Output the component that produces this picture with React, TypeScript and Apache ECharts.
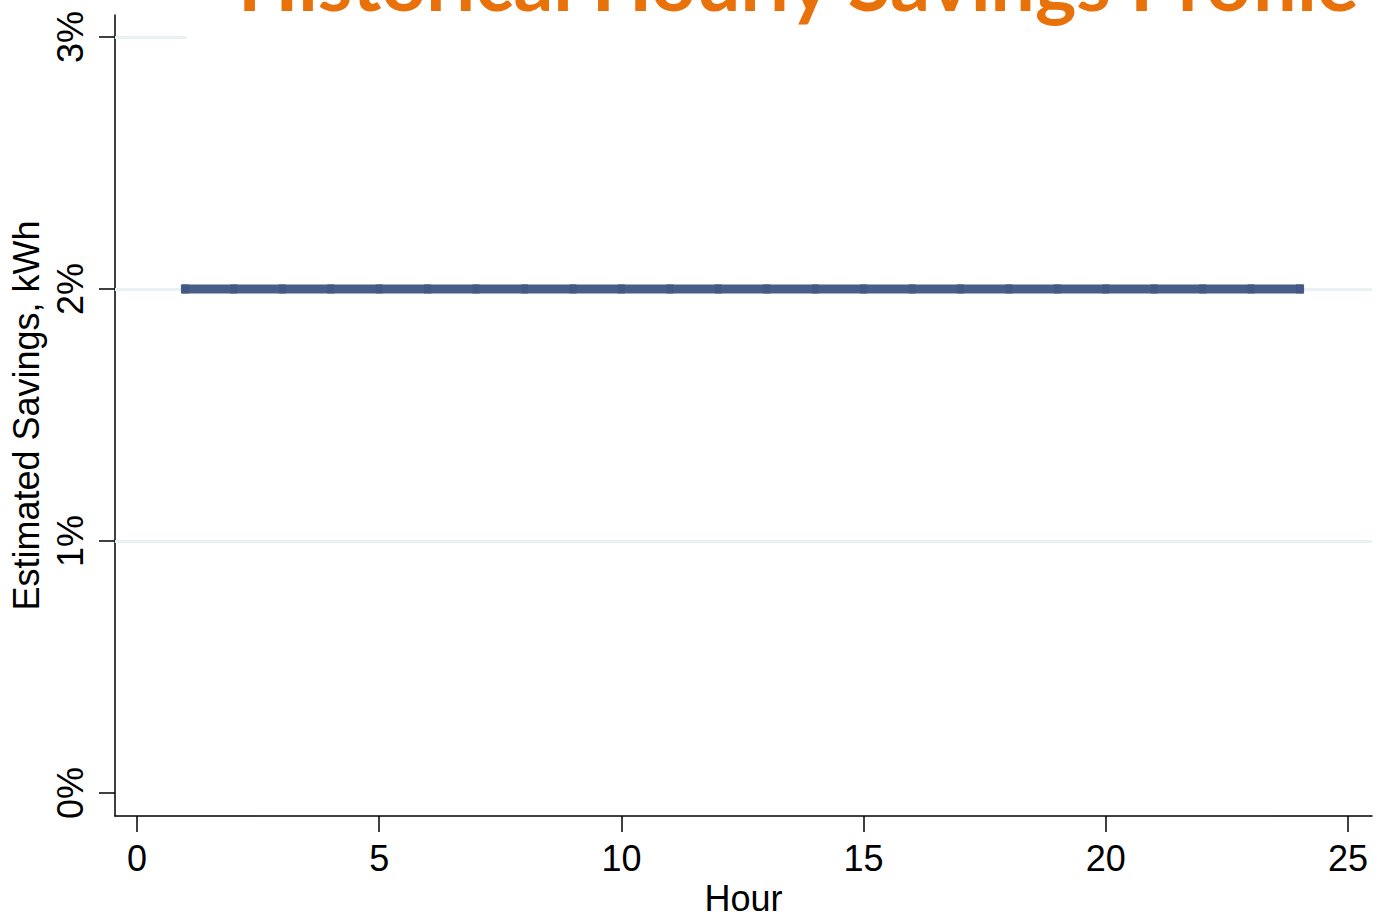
import React, { useEffect, useRef } from "react";
import * as echarts from "echarts";

// Hourly savings profile: estimated savings share by hour of day
const hours: number[] = [1, 2, 3, 4, 5, 6, 7, 8, 9, 10, 11, 12, 13, 14, 15, 16, 17, 18, 19, 20, 21, 22, 23, 24];
const savingsPct: number[] = [2, 2, 2, 2, 2, 2, 2, 2, 2, 2, 2, 2, 2, 2, 2, 2, 2, 2, 2, 2, 2, 2, 2, 2];
const xTicks: number[] = [0, 5, 10, 15, 20, 25];
const yTicks: number[] = [0, 1, 2, 3];
const gridLevels: number[] = [1, 2, 3];

const TITLE = "Historical Hourly Savings Profile";
const ORANGE = "#E8710A";
const LINE_BLUE = "#475e88";
const AXIS_FONT = "'Liberation Sans', Arial, sans-serif";

export default function App() {
  const ref = useRef<HTMLDivElement>(null);

  useEffect(() => {
    if (!ref.current) return;
    const chart = echarts.init(ref.current, undefined, { renderer: "svg" });

    const option: any = {
      animation: false,
      backgroundColor: "#ffffff",
      grid: { left: 115, top: 15, right: 11, bottom: 106, containLabel: false },
      xAxis: {
        type: "value",
        min: -0.454,
        max: 25.495,
        name: "Hour",
        nameLocation: "middle",
        nameGap: 59,
        nameTextStyle: { fontFamily: AXIS_FONT, fontSize: 36, color: "#000" },
        axisLine: { show: true, onZero: false, lineStyle: { color: "#000", width: 1.5 } },
        axisTick: { show: true, length: 16, customValues: xTicks, lineStyle: { color: "#000", width: 1.5 } },
        axisLabel: {
          customValues: xTicks,
          margin: 24,
          fontFamily: AXIS_FONT,
          fontSize: 36,
          color: "#000",
        },
        splitLine: { show: false },
      },
      yAxis: {
        type: "value",
        min: -0.0913,
        max: 3.087,
        name: "Estimated Savings, kWh",
        nameLocation: "middle",
        nameGap: 61,
        nameTextStyle: { fontFamily: AXIS_FONT, fontSize: 36, color: "#000" },
        axisLine: { show: true, onZero: false, lineStyle: { color: "#000", width: 1.5 } },
        axisTick: { show: true, length: 16, customValues: yTicks, lineStyle: { color: "#000", width: 1.5 } },
        axisLabel: {
          customValues: yTicks,
          rotate: 90,
          margin: 27,
          fontFamily: AXIS_FONT,
          fontSize: 36,
          color: "#000",
          formatter: (v: number) => `${v}%`,
        },
        splitLine: { show: false },
      },
      series: [
        {
          name: "grid",
          type: "line",
          data: [],
          silent: true,
          z: 1,
          markLine: {
            silent: true,
            z: 1,
            symbol: "none",
            label: { show: false },
            lineStyle: { color: "#e9f1f2", width: 3, type: "solid" },
            data: gridLevels.map((v) => ({ yAxis: v })),
          },
        },
        {
          name: "Estimated Savings",
          type: "line",
          z: 3,
          data: hours.map((h, i) => [h, savingsPct[i]]),
          showSymbol: true,
          symbol: "rect",
          symbolSize: [7, 9],
          itemStyle: { color: "#435983" },
          lineStyle: { color: LINE_BLUE, width: 9, cap: "square" },
        },
      ],
      graphic: [
        {
          type: "rect",
          z: 50,
          shape: { x: 187, y: 0, width: 1196, height: 44 },
          style: { fill: "#ffffff" },
        },
        {
          type: "text",
          z: 51,
          x: 238,
          y: -59,
          style: {
            text: TITLE,
            fill: ORANGE,
            font: "bold 78.5px Lato, 'Open Sans', sans-serif",
          },
        },
      ],
    };

    chart.setOption(option);
    return () => chart.dispose();
  }, []);

  return (
    <div
      ref={ref}
      style={{ position: "fixed", left: 0, top: 0, width: 1383, height: 922, background: "#fff" }}
    />
  );
}
